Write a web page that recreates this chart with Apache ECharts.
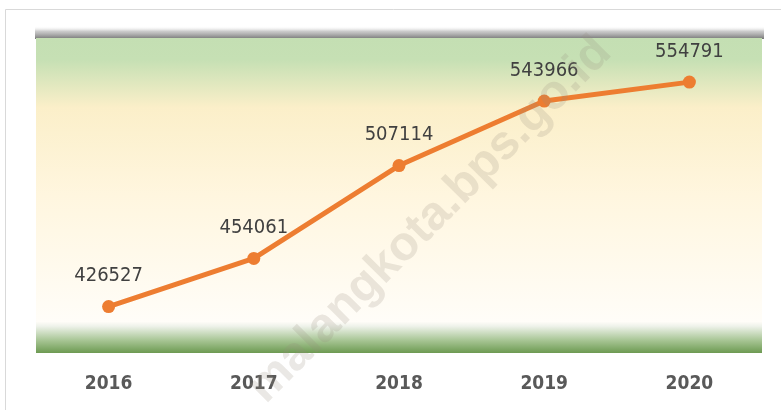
<!DOCTYPE html>
<html>
<head>
<meta charset="utf-8">
<script src="https://cdn.jsdelivr.net/npm/echarts@6/dist/echarts.min.js"></script>
<style>
html,body{margin:0;padding:0;background:#fff;}
#main{width:781px;height:410px;}
</style>
</head>
<body>
<div id="main"></div>
<script>
var years = ['2016', '2017', '2018', '2019', '2020'];
var values = [426527, 454061, 507114, 543966, 554791];

var chart = echarts.init(document.getElementById('main'));
var option = {
    backgroundColor: '#fff',
    animation: false,
    graphic: [
        { // outer frame
            type: 'rect', shape: {x: 5.5, y: 9.5, width: 820, height: 430},
            style: {fill: 'none', stroke: '#d9d9d9', lineWidth: 1}, z: -10
        },
        { // top shadow
            type: 'rect', shape: {x: 35, y: 26, width: 729, height: 13},
            style: {fill: new echarts.graphic.LinearGradient(0, 0, 0, 1, [
                {offset: 0, color: 'rgba(255,255,255,0)'},
                {offset: 0.4, color: 'rgba(170,170,170,0.6)'},
                {offset: 1, color: 'rgba(110,110,110,0.95)'}
            ])}, z: -5
        },
        { // watermark
            type: 'text', x: 430, y: 220,
            rotation: 0.79, z: 100,
            style: {
                text: 'malangkota.bps.go.id', x: 0, y: 0, align: 'center', verticalAlign: 'middle',
                font: 'bold 48px "Liberation Sans", Arial', fill: 'rgba(150,140,125,0.2)'
            }
        }
    ],
    grid: {
        left: 36, right: 19, top: 38, bottom: 57,
        show: true, borderWidth: 0,
        backgroundColor: new echarts.graphic.LinearGradient(0, 0, 0, 1, [
            {offset: 0, color: '#c4dfb3'},
            {offset: 0.07, color: '#c6e0b4'},
            {offset: 0.22, color: '#fbefc9'},
            {offset: 0.5, color: '#fff6df'},
            {offset: 0.9, color: '#fffdf8'},
            {offset: 0.915, color: '#eef2ea'},
            {offset: 0.96, color: '#a7c594'},
            {offset: 1, color: '#6d9a52'}
        ])
    },
    xAxis: {
        type: 'category',
        data: years,
        boundaryGap: true,
        axisLine: {show: false},
        axisTick: {show: false},
        axisLabel: {
            margin: 22, color: '#595959', fontSize: 19, fontWeight: 'bold',
            fontFamily: '"DejaVu Sans Condensed", "Liberation Sans Narrow", sans-serif'
        }
    },
    yAxis: {
        type: 'value', min: 400000, max: 580000,
        show: false, splitLine: {show: false}
    },
    series: [{
        type: 'line',
        data: values,
        symbol: 'circle', symbolSize: 13,
        lineStyle: {color: '#ed7d31', width: 5},
        itemStyle: {color: '#ed7d31'},
        label: {
            show: true, position: 'top', distance: 14,
            color: '#404040', fontSize: 20,
            fontFamily: '"DejaVu Sans Condensed", "Liberation Sans Narrow", sans-serif'
        }
    }]
};
chart.setOption(option);
</script>
</body>
</html>
